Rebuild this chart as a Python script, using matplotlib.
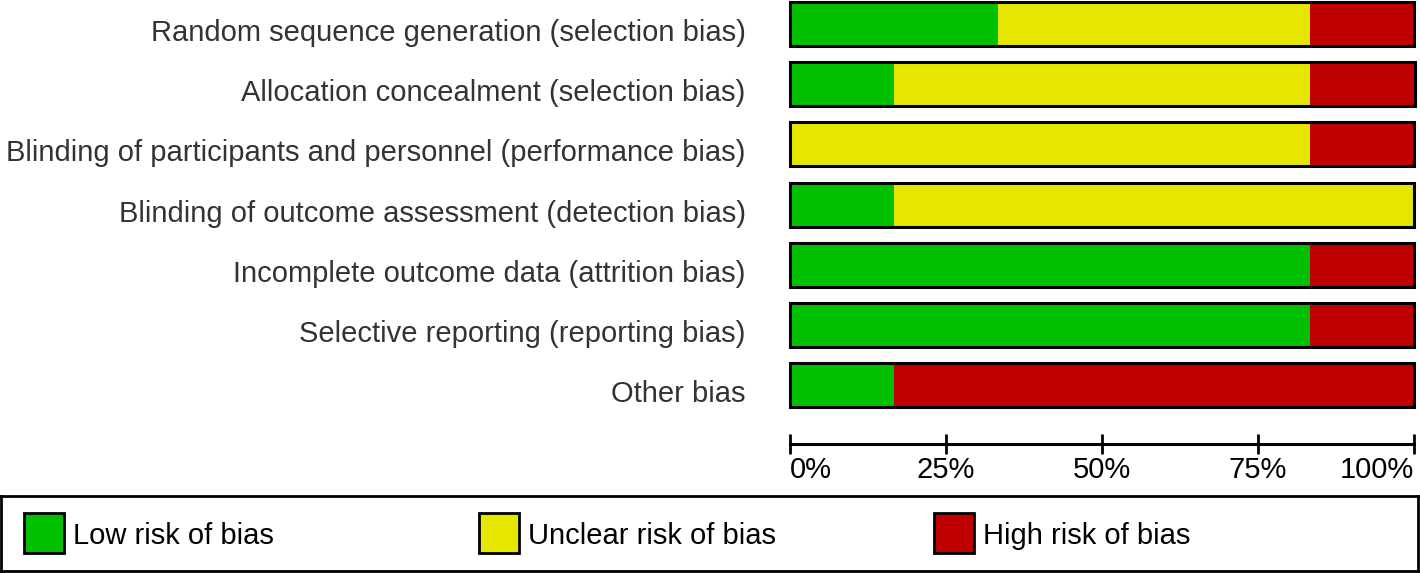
import matplotlib
matplotlib.use("Agg")
import matplotlib.pyplot as plt
import matplotlib.transforms as mtransforms
from matplotlib.patches import Rectangle

plt.rcParams['font.family'] = ['Liberation Sans', 'DejaVu Sans']

# Datos: porcentaje de estudios por dominio y nivel de riesgo
dominios = [
    "Random sequence generation (selection bias)",
    "Allocation concealment (selection bias)",
    "Blinding of participants and personnel (performance bias)",
    "Blinding of outcome assessment (detection bias)",
    "Incomplete outcome data (attrition bias)",
    "Selective reporting (reporting bias)",
    "Other bias",
]
bajo = [33.3, 16.7, 0.0, 16.7, 83.3, 83.3, 16.7]
incierto = [50.0, 66.7, 83.3, 83.3, 0.0, 0.0, 0.0]
alto = [16.7, 16.7, 16.7, 0.0, 16.7, 16.7, 83.3]

niveles = ["Low risk of bias", "Unclear risk of bias", "High risk of bias"]
colores = ["#00c000", "#e6e600", "#c00000"]
ticks = [0, 25, 50, 75, 100]
etiquetas_ticks = ["0%", "25%", "50%", "75%", "100%"]

fig = plt.figure(figsize=(14.2, 5.73), dpi=100)
ax = fig.add_axes([790 / 1420, 1 - 444 / 573, 624 / 1420, 444 / 573])

pos = list(range(len(dominios)))
alto_barra = 0.73
izq = [0.0] * len(dominios)
for serie, color in zip([bajo, incierto, alto], colores):
    ax.barh(pos, serie, left=izq, height=alto_barra, color=color,
            edgecolor='none', clip_on=False)
    izq = [a + b for a, b in zip(izq, serie)]

# Contorno negro de cada barra completa
ax.barh(pos, izq, height=alto_barra, facecolor='none', edgecolor='black',
        linewidth=2.2, clip_on=False)

ax.set_xlim(0, 100)
ax.set_ylim(6.98, -0.4)
ax.set_yticks(pos)
ax.set_yticklabels(dominios, fontsize=21, color='#333333')
ax.tick_params(axis='y', length=0, pad=32)
# bajar un poco las etiquetas como en el original
desplazar = mtransforms.ScaledTranslation(0, -6 / 100, fig.dpi_scale_trans)
for lbl in ax.get_yticklabels():
    lbl.set_transform(lbl.get_transform() + desplazar)

ax.set_xticks(ticks)
ax.set_xticklabels(etiquetas_ticks, fontsize=21, color='black')
ax.tick_params(axis='x', direction='inout', length=14, width=2, pad=2)
tl = ax.get_xticklabels()
tl[0].set_horizontalalignment('left')
tl[-1].set_horizontalalignment('right')

for s in ['top', 'right', 'left']:
    ax.spines[s].set_visible(False)
ax.spines['bottom'].set_linewidth(2.2)

# Leyenda dibujada en un eje propio
lax = fig.add_axes([1 / 1420, 2 / 573, 1417 / 1420, 75 / 573])
lax.set_xlim(0, 1417)
lax.set_ylim(0, 75)
lax.set_xticks([])
lax.set_yticks([])
for s in lax.spines.values():
    s.set_linewidth(2)
for i, (nombre, color) in enumerate(zip(niveles, colores)):
    x0 = 23 + 455 * i
    lax.add_patch(Rectangle((x0, 18), 40, 40, facecolor=color,
                            edgecolor='black', linewidth=2))
    lax.text(x0 + 49, 35, nombre, fontsize=21, va='center', ha='left',
             color='black')

fig.savefig("out.png", dpi=100)
plt.close(fig)
